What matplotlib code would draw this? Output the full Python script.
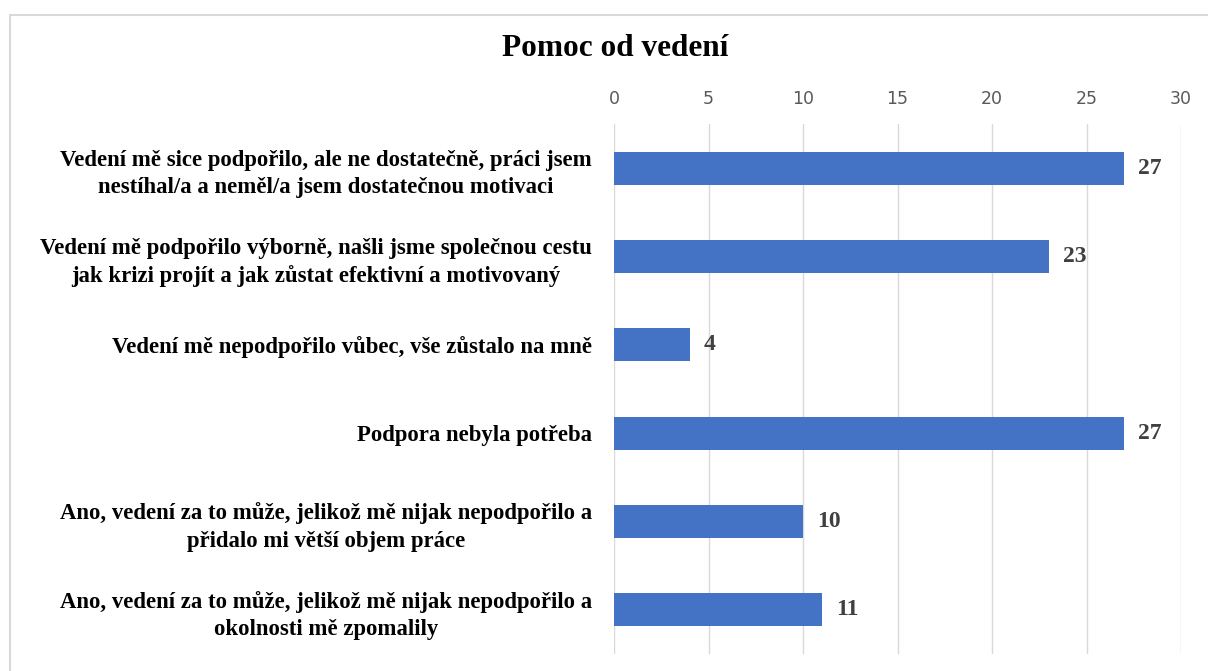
import matplotlib.pyplot as plt
from matplotlib.patches import Rectangle

categories = [
    "Vedení mě sice podpořilo, ale ne dostatečně, práci jsem\nnestíhal/a a neměl/a jsem dostatečnou motivaci",
    "Vedení mě podpořilo výborně, našli jsme společnou cestu\njak krizi projít a jak zůstat efektivní a motivovaný",
    "Vedení mě nepodpořilo vůbec, vše zůstalo na mně",
    "Podpora nebyla potřeba",
    "Ano, vedení za to může, jelikož mě nijak nepodpořilo a\npřidalo mi větší objem práce",
    "Ano, vedení za to může, jelikož mě nijak nepodpořilo a\nokolnosti mě zpomalily",
]
values = [27, 23, 4, 27, 10, 11]
ticks = [0, 5, 10, 15, 20, 25, 30]

serif = ["Liberation Serif", "DejaVu Serif"]

fig = plt.figure(figsize=(12.08, 6.71), dpi=100)
ax = fig.add_axes([614 / 1208, 1 - 654 / 671, (1181 - 614) / 1208, 530 / 671])

ypos = list(range(len(categories)))
ax.barh(ypos, values, height=0.375, color="#4472C4", zorder=3)

for y, v in zip(ypos, values):
    ax.text(v + 0.75, y, str(v), va="center", ha="left", fontsize=17,
            fontweight="bold", color="#404040", family=serif)

ax.set_xlim(0, 30)
ax.set_ylim(len(categories) - 0.5, -0.5)
ax.set_xticks(ticks)
ax.xaxis.tick_top()
ax.tick_params(axis="x", length=0, pad=11.5, labelsize=12.5, labelcolor="#595959")
ax.tick_params(axis="y", length=0, pad=16)
ax.set_yticks(ypos)
ax.set_yticklabels(categories, fontsize=16.4, fontweight="bold", family=serif,
                   ha="right", multialignment="center", linespacing=1.38)
ax.grid(axis="x", color="#D9D9D9", linewidth=1, zorder=0)
for s in ax.spines.values():
    s.set_visible(False)

fig.text(615 / 1208, 1 - 49 / 671, "Pomoc od vedení", ha="center", va="center",
         fontsize=22.5, fontweight="bold", family=serif)

fig.patches.append(Rectangle((10 / 1208, -0.1), 1.2, 1 - 15 / 671 + 0.1,
                             transform=fig.transFigure, fill=False,
                             edgecolor="#D9D9D9", linewidth=1.5))

fig.savefig("out.png", dpi=100)
